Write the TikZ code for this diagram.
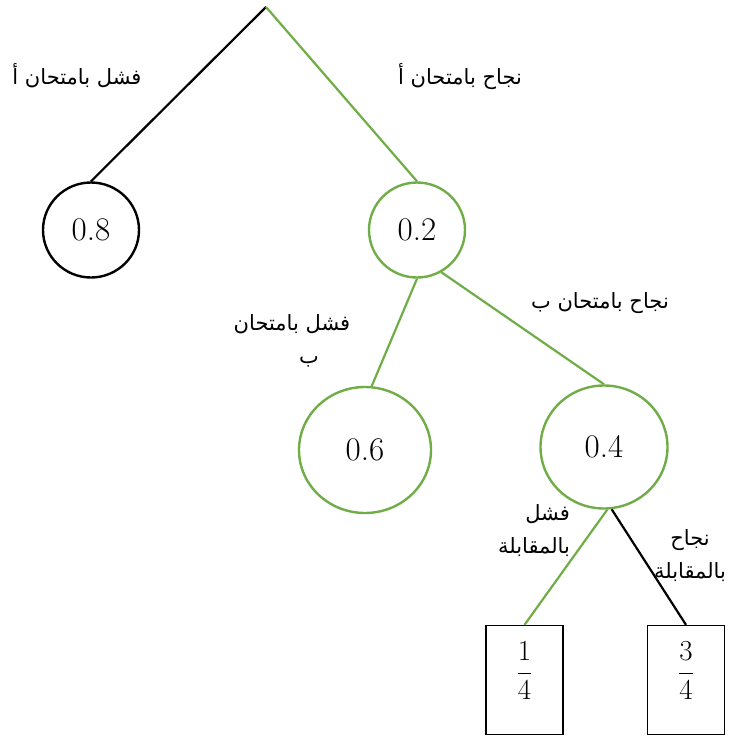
\RequirePackage{fix-cm}
\documentclass[tikz,border=0pt]{standalone}
\usepackage{fontspec}
\usetikzlibrary{shapes.geometric}
\TeXXeTstate=1
\newfontfamily\arabicfont[Script=Arabic]{DejaVu Sans}
\definecolor{tgreen}{HTML}{70AD47}
\tikzset{
  prob/.style={draw, ellipse, line width=2.4pt, inner sep=0pt, font=\fontsize{33}{38}\selectfont},
  frbox/.style={draw, rectangle, line width=1.3pt, inner sep=0pt, minimum width=77pt, minimum height=109pt, font=\fontsize{29}{34}\selectfont},
  edge/.style={line width=2.2pt},
  lbl/.style={font=\arabicfont\fontsize{21}{33}\selectfont, inner sep=0pt}
}
\begin{document}
\begin{tikzpicture}[x=1pt,y=-1pt]
\useasboundingbox (0,0) rectangle (730,736);
\coordinate (top) at (266,7);
\node[prob, minimum width=96pt, minimum height=95pt] (n08) at (91,230) {0.8};
\node[prob, tgreen, text=black, minimum width=96pt, minimum height=95pt] (n02) at (417,230) {0.2};
\node[prob, tgreen, text=black, minimum width=132pt, minimum height=126pt] (n06) at (365,450) {0.6};
\node[prob, tgreen, text=black, minimum width=127pt, minimum height=123pt] (n04) at (604,447) {0.4};
\node[frbox] (f1) at (524.5,680) {\smash{$\displaystyle\frac{1}{4}$}};
\node[frbox] (f3) at (686,680) {\smash{$\displaystyle\frac{3}{4}$}};

\draw[edge] (top) -- (n08.north);
\draw[edge, tgreen] (top) -- (n02.north);
\draw[edge, tgreen] (n02.south) -- (n06.84);
\draw[edge, tgreen] (n02.-60) -- (n04.north);
\draw[edge, tgreen] (n04.-87) -- (f1.north);
\draw[edge] (n04.-83) -- (f3.north);

\node[lbl] (l1) at (77,76) {\beginR فشل بامتحان أ\endR};
\node[lbl] (l2) at (460,77) {\beginR نجاح بامتحان أ\endR};
\node[lbl, align=center] (l3) at (292,341) {\beginR فشل بامتحان\endR\\\hspace*{34pt}\beginR ب\endR};
\node[lbl] (l4) at (600,303) {\beginR نجاح بامتحان ب\endR};
\node[lbl, align=right] (l5) at (534,531) {\beginR فشل\endR\\\beginR بالمقابلة\endR};
\node[lbl, align=center] (l6) at (690,556) {\beginR نجاح\endR\\\beginR بالمقابلة\endR};
\end{tikzpicture}
\end{document}
